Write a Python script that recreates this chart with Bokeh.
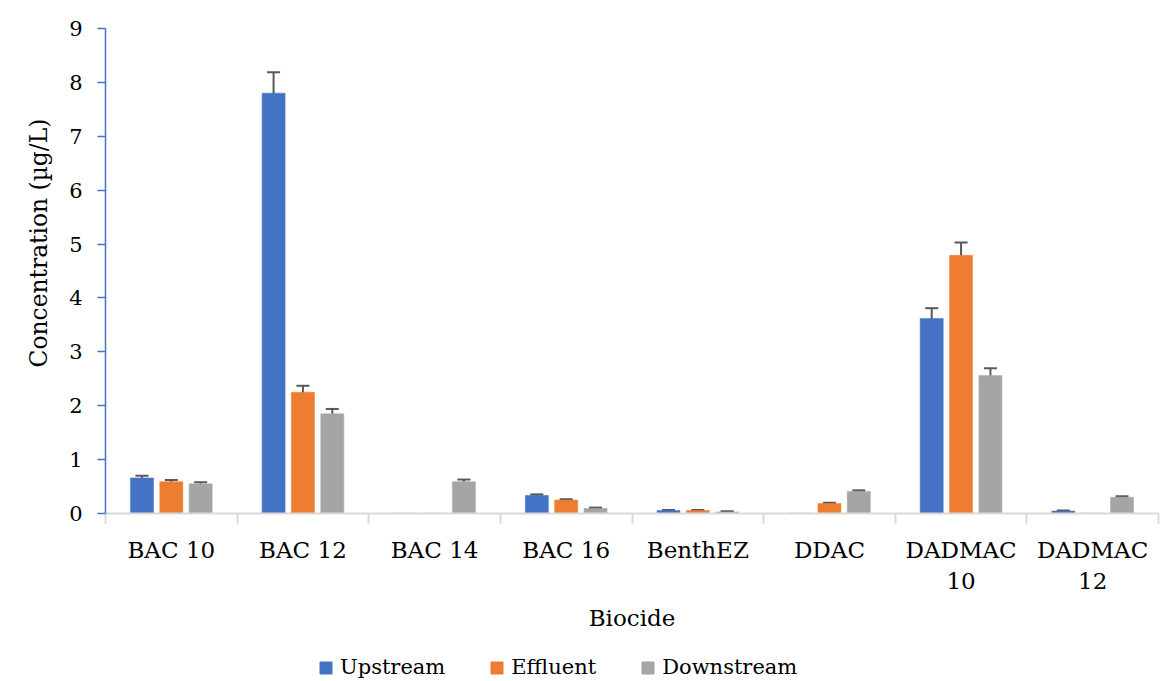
from bokeh.plotting import figure
from bokeh.layouts import column
from bokeh.models import (ColumnDataSource, Range1d, FixedTicker, Whisker, TeeHead,
                          Legend, LegendItem, Title)
from bokeh.embed import file_html
from bokeh.resources import INLINE

categories = ["BAC 10", "BAC 12", "BAC 14", "BAC 16", "BenthEZ", "DDAC", "DADMAC 10", "DADMAC 12"]
tick_labels = ["BAC 10", "BAC 12", "BAC 14", "BAC 16", "BenthEZ", "DDAC", "DADMAC\n10", "DADMAC\n12"]
series = ["Upstream", "Effluent", "Downstream"]
upstream = [0.66, 7.80, 0.005, 0.335, 0.055, 0.005, 3.62, 0.045]
upstream_err = [0.04, 0.39, 0.0, 0.02, 0.01, 0.0, 0.19, 0.01]
effluent = [0.59, 2.25, 0.005, 0.25, 0.055, 0.185, 4.79, 0.005]
effluent_err = [0.03, 0.12, 0.0, 0.015, 0.01, 0.015, 0.24, 0.0]
downstream = [0.55, 1.85, 0.59, 0.095, 0.03, 0.41, 2.56, 0.30]
downstream_err = [0.03, 0.09, 0.04, 0.015, 0.01, 0.02, 0.135, 0.02]
colors = ["#4472c4", "#ed7d31", "#a5a5a5"]

FONT = "DejaVu Serif"
FS = "23px"

W = 1160
p = figure(width=W, height=645, output_backend="svg", toolbar_location=None,
           x_range=Range1d(0, len(categories)), y_range=Range1d(0, 9),
           min_border_left=105, min_border_right=2, min_border_top=28,
           min_border_bottom=132)
p.outline_line_color = None
p.grid.visible = False

values = [upstream, effluent, downstream]
errors = [upstream_err, effluent_err, downstream_err]
offsets = [-0.223, 0.0, 0.223]
for name, vals, errs, off, col in zip(series, values, errors, offsets, colors):
    xs = [i + 0.5 + off for i in range(len(categories))]
    src = ColumnDataSource(dict(x=xs, top=vals))
    p.vbar(x="x", top="top", width=0.175, bottom=0, source=src,
           fill_color=col, line_color=col, line_alpha=0.5)
    wx = [x for x, e in zip(xs, errs) if e > 0]
    wu = [v + e for v, e in zip(vals, errs) if e > 0]
    wl = [v - e for v, e in zip(vals, errs) if e > 0]
    wsrc = ColumnDataSource(dict(x=wx, upper=wu, lower=wl))
    w = Whisker(source=wsrc, base="x", upper="upper", lower="lower",
                line_color="#595959", line_width=2,
                upper_head=TeeHead(size=13, line_color="#595959", line_width=2),
                lower_head=TeeHead(size=13, line_color="#595959", line_width=2))
    p.add_layout(w)

# x axis
xa = p.xaxis[0]
xa.ticker = FixedTicker(ticks=[i + 0.5 for i in range(len(categories))],
                        minor_ticks=list(range(len(categories) + 1)))
xa.major_label_overrides = {i + 0.5: lab for i, lab in enumerate(tick_labels)}
xa.major_tick_out = 0
xa.major_tick_in = 0
xa.minor_tick_out = 10
xa.minor_tick_in = 0
xa.minor_tick_line_color = "#d9d9d9"
xa.minor_tick_line_width = 2
xa.axis_line_color = "#d9d9d9"
xa.axis_line_width = 2
xa.major_label_standoff = 13
xa.major_label_text_font = FONT
xa.major_label_text_font_size = FS
xa.major_label_text_color = "black"
xa.axis_label = "Biocide"
xa.axis_label_text_font = FONT
xa.axis_label_text_font_size = FS
xa.axis_label_text_font_style = "normal"
xa.axis_label_text_color = "black"
xa.axis_label_standoff = 8

# y axis
ya = p.yaxis[0]
ya.ticker = FixedTicker(ticks=list(range(0, 10)))
ya.minor_tick_line_color = None
ya.major_tick_out = 8
ya.major_tick_in = 0
ya.major_tick_line_color = "#4472c4"
ya.major_tick_line_width = 1.5
ya.axis_line_color = "#4472c4"
ya.axis_line_width = 1.5
ya.major_label_standoff = 15
ya.major_label_text_font = FONT
ya.major_label_text_font_size = "21px"
ya.major_label_text_color = "black"

ytitle = Title(text="Concentration (µg/L)", align="left", offset=146, standoff=28,
               text_font=FONT, text_font_size="23.4px", text_font_style="normal",
               text_color="black")
p.add_layout(ytitle, "left")

# legend row
lg = figure(width=W, height=36, output_backend="svg", toolbar_location=None,
            x_range=Range1d(0, 1), y_range=Range1d(0, 1),
            x_axis_location=None, y_axis_location=None,
            min_border_left=0, min_border_right=0, min_border_top=0, min_border_bottom=0)
lg.grid.visible = False
lg.outline_line_color = None
items = []
for name, col in zip(series, colors):
    r = lg.vbar(x=[0.5], top=[-5], bottom=[-6], width=0.1, fill_color=col, line_color=col)
    items.append(LegendItem(label=name, renderers=[r]))
legend = Legend(items=items, orientation="horizontal", location=(213, 2),
                label_text_font=FONT, label_text_font_size="21px", label_text_color="black",
                glyph_width=15, glyph_height=15, label_standoff=7, spacing=44,
                padding=0, margin=0, border_line_color=None, background_fill_alpha=0)
lg.add_layout(legend, "center")

layout = column(p, lg, spacing=0)
open("out.html", "w").write(file_html(layout, INLINE))
